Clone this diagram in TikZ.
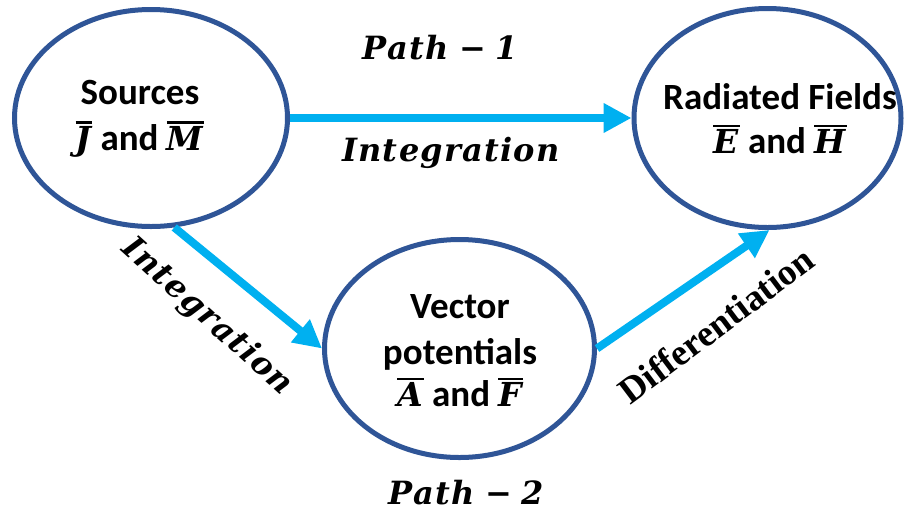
\RequirePackage{fix-cm}
\documentclass[tikz,border=0pt]{standalone}
\usepackage{fontspec}
\setmainfont{Carlito}
\newfontfamily\timesf{Liberation Serif}
\newfontfamily\mathf[LetterSpace=4]{DejaVu Serif}
\newfontfamily\mathv{DejaVu Serif}
\usetikzlibrary{shapes.geometric,arrows.meta}
\definecolor{ringblue}{HTML}{2F5597}
\definecolor{arrowcyan}{HTML}{00B0F0}
\newcommand{\vbar}[1]{\vbox{\hrule height 2.2pt\kern3pt\hbox{\mathv\bfseries\itshape\fontsize{33}{40}\selectfont #1\kern1pt}}}
\tikzset{
  ring/.style={ellipse, draw=ringblue, line width=5pt, inner sep=0pt, fill=white},
  lbl/.style={font=\bfseries\fontsize{37}{46}\selectfont, align=center, inner sep=0pt},
  mlbl/.style={font=\mathf\bfseries\itshape\fontsize{32}{40}\selectfont, inner sep=0pt},
  flow/.style={draw=arrowcyan, line width=8pt, -{Triangle[length=28pt,width=28pt]}}
}
\begin{document}
\begin{tikzpicture}[x=1pt,y=-1pt]
\useasboundingbox (0,0) rectangle (904,512);
\node[ring, minimum width=273pt, minimum height=217pt] (L) at (151,118) {};
\node[ring, minimum width=267pt, minimum height=219pt] (R) at (767.5,118) {};
\node[ring, minimum width=270pt, minimum height=218pt] (B) at (459.5,348.5) {};

\node[lbl] (ltxt) at (140,119) {Sources\\\vbar{J} and \vbar{M}};
\node[lbl] (rtxt) at (780,119) {Radiated Fields\\[-2pt]\vbar{E} and \vbar{H}};
\node[lbl] (btxt) at (460,351) {Vector\\potentials\\[-4pt]\vbar{A} and \vbar{F}};

\draw[flow] (L.east) -- (R.west);
\draw[flow] (L.-78) -- (B.west);
\draw[flow] (B.east) -- (R.-89);

\node[mlbl] (p1) at (440,48) {Path\hspace{11pt}−\hspace{9pt}1};
\node[mlbl] (i1) at (451,153) {Integration};
\node[mlbl] (p2) at (466,493) {Path\hspace{11pt}−\hspace{9pt}2};
\node[mlbl, rotate=-42] (i2) at (207,317) {Integration};
\node[inner sep=0pt, rotate=37, font=\timesf\bfseries\fontsize{37}{40}\selectfont] (d1) at (716,325) {Differentiation};
\end{tikzpicture}
\end{document}
